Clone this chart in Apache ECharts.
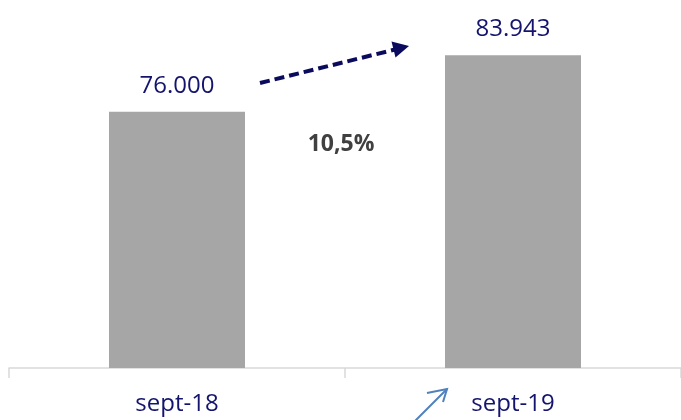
<!DOCTYPE html>
<html>
<head>
<meta charset="utf-8">
<script src="https://cdn.jsdelivr.net/npm/echarts@6/dist/echarts.min.js"></script>
<style>
html,body{margin:0;padding:0;background:#fff;}
#chart{width:681px;height:420px;}
</style>
</head>
<body>
<div id="chart"></div>
<script>
var categories = ['sept-18', 'sept-19'];
var values = [76000, 83943];
var growthLabel = '10,5%';

function fmt(v) {
  return String(v).replace(/\B(?=(\d{3})+(?!\d))/g, '.');
}

var chart = echarts.init(document.getElementById('chart'), null, {renderer: 'canvas'});
var font = '"Open Sans", "Noto Sans", sans-serif';

chart.setOption({
  animation: false,
  grid: {left: 9, width: 677, top: 12, height: 356, containLabel: false},
  xAxis: {
    type: 'category',
    data: categories,
    boundaryGap: true,
    axisLine: {show: true, lineStyle: {color: '#D9D9D9', width: 1.5}},
    axisTick: {show: true, length: 10, lineStyle: {color: '#D9D9D9', width: 1.5}},
    axisLabel: {color: '#14146E', fontSize: 24, fontFamily: font, margin: 24}
  },
  yAxis: {
    type: 'value',
    min: 40000,
    max: 90000,
    show: false,
    splitLine: {show: false}
  },
  series: [{
    type: 'bar',
    data: values,
    barWidth: 136,
    itemStyle: {color: '#A6A6A6'},
    label: {
      show: true,
      position: 'top',
      distance: 14,
      color: '#14146E',
      fontSize: 24,
      fontFamily: font,
      formatter: function (p) { return fmt(p.value); }
    }
  }],
  graphic: [
    {
      type: 'text',
      x: 341, y: 144,
      style: {
        text: growthLabel,
        fill: '#404040',
        font: 'bold 23px ' + font,
        align: 'center',
        verticalAlign: 'middle'
      }
    },
    {
      type: 'polyline',
      shape: {points: [[260, 83], [395, 49.5]]},
      style: {stroke: '#0B0B5E', lineWidth: 4, lineDash: [10, 5], fill: null}
    },
    {
      type: 'polygon',
      shape: {points: [[409, 46], [391.5, 41.5], [395.5, 57.5]]},
      style: {fill: '#0B0B5E'}
    },
    {
      type: 'polyline',
      shape: {points: [[415, 421], [447, 389]]},
      style: {stroke: '#4F81BD', lineWidth: 2, fill: null}
    },
    {
      type: 'polyline',
      shape: {points: [[427, 393], [447, 389], [443, 402]]},
      style: {stroke: '#4F81BD', lineWidth: 2, fill: null}
    }
  ]
});
</script>
</body>
</html>
